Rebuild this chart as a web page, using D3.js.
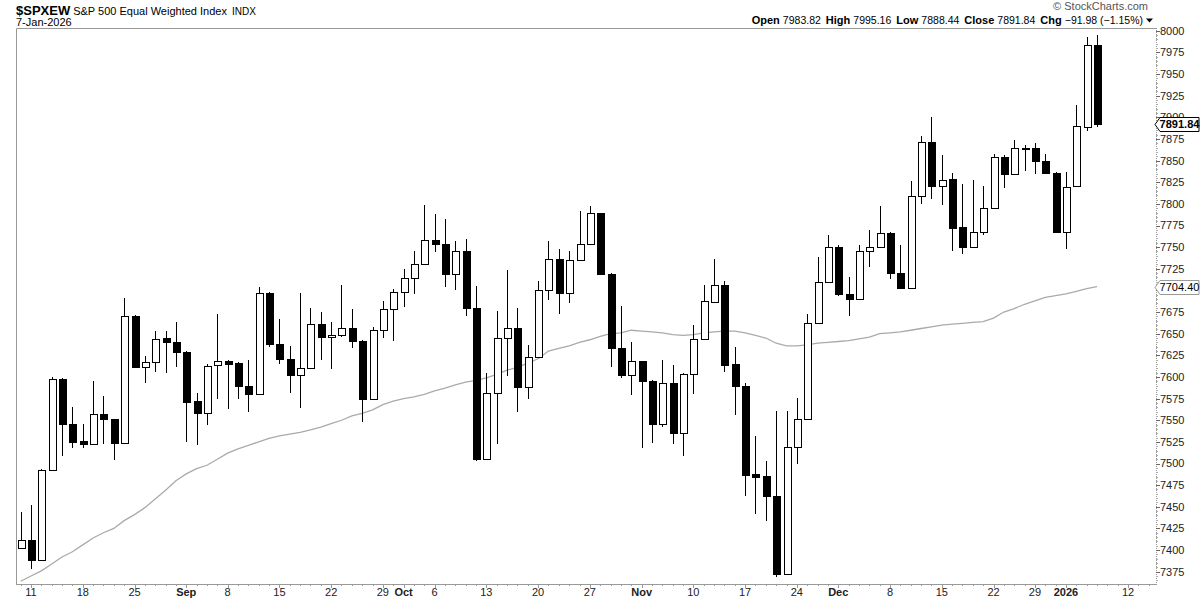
<!DOCTYPE html>
<html>
<head>
<meta charset="utf-8">
<script src="https://cdn.jsdelivr.net/npm/d3@7"></script>
<style>
  body { margin: 0; background: #fff; }
  svg { display: block; font-family: "Liberation Sans", Arial, sans-serif; }
</style>
</head>
<body>
<script>
// trading days shown on the chart
const dates = [
  '2025-08-08','2025-08-11','2025-08-12','2025-08-13','2025-08-14','2025-08-15','2025-08-18','2025-08-19','2025-08-20','2025-08-21',
  '2025-08-22','2025-08-25','2025-08-26','2025-08-27','2025-08-28','2025-08-29','2025-09-02','2025-09-03','2025-09-04','2025-09-05',
  '2025-09-08','2025-09-09','2025-09-10','2025-09-11','2025-09-12','2025-09-15','2025-09-16','2025-09-17','2025-09-18','2025-09-19',
  '2025-09-22','2025-09-23','2025-09-24','2025-09-25','2025-09-26','2025-09-29','2025-09-30','2025-10-01','2025-10-02','2025-10-03',
  '2025-10-06','2025-10-07','2025-10-08','2025-10-09','2025-10-10','2025-10-13','2025-10-14','2025-10-15','2025-10-16','2025-10-17',
  '2025-10-20','2025-10-21','2025-10-22','2025-10-23','2025-10-24','2025-10-27','2025-10-28','2025-10-29','2025-10-30','2025-10-31',
  '2025-11-03','2025-11-04','2025-11-05','2025-11-06','2025-11-07','2025-11-10','2025-11-11','2025-11-12','2025-11-13','2025-11-14',
  '2025-11-17','2025-11-18','2025-11-19','2025-11-20','2025-11-21','2025-11-24','2025-11-25','2025-11-26','2025-11-28','2025-12-01',
  '2025-12-02','2025-12-03','2025-12-04','2025-12-05','2025-12-08','2025-12-09','2025-12-10','2025-12-11','2025-12-12','2025-12-15',
  '2025-12-16','2025-12-17','2025-12-18','2025-12-19','2025-12-22','2025-12-23','2025-12-24','2025-12-26','2025-12-29','2025-12-30',
  '2025-12-31','2026-01-02','2026-01-05','2026-01-06','2026-01-07'
];
// empty slots after the last bar
const futureDates = ['2026-01-08','2026-01-09','2026-01-12','2026-01-13','2026-01-14'];

const open = [
  7402,7412,7388,7492,7598,7546,7526,7523,7557,7551,
  7524,7671,7611,7617,7645,7640,7629,7572,7558,7614,
  7619,7616,7590,7580,7697,7638,7621,7602,7610,7661,
  7646,7649,7657,7642,7575,7654,7678,7698,7714,7731,
  7758,7754,7719,7745,7680,7505,7581,7645,7657,7588,
  7623,7700,7736,7697,7735,7754,7789,7719,7633,7602,
  7618,7595,7546,7593,7535,7603,7644,7687,7706,7615,
  7589,7488,7486,7462,7372,7519,7551,7662,7710,7750,
  7696,7690,7746,7750,7766,7720,7703,7809,7872,7821,
  7829,7773,7750,7767,7795,7854,7834,7864.6,7864,7849,
  7836,7768,7821,7889,7983.82
];
const high = [
  7444,7452,7494,7600,7599,7565,7546,7595,7578,7552,
  7691,7672,7624,7653,7653,7663,7630,7582,7615,7673,
  7620,7617,7620,7704,7698,7667,7636,7697,7680,7675,
  7663,7706,7679,7643,7658,7688,7702,7725,7746,7799,
  7788,7783,7757,7759,7705,7605,7676,7724,7680,7637,
  7711,7757,7748,7746,7792,7798,7790,7720,7682,7640,
  7619,7596,7620,7614,7605,7660,7706,7736,7711,7635,
  7593,7532,7503,7561,7561,7576,7673,7739,7764,7753,
  7716,7753,7770,7798,7768,7752,7826,7878,7900,7856,
  7836,7823,7828,7821,7858,7856,7874,7868,7870,7858,
  7837,7837,7914,7993,7995.16
];
const low = [
  7401,7378,7387,7491,7509,7518,7518,7522,7523,7504,
  7522,7610,7593,7606,7605,7611,7525,7521,7544,7575,
  7563,7575,7559,7579,7635,7615,7582,7564,7609,7620,
  7609,7646,7634,7548,7574,7645,7642,7681,7696,7730,
  7744,7704,7701,7670,7503,7504,7522,7601,7560,7575,
  7622,7689,7673,7686,7734,7753,7718,7611,7599,7579,
  7518,7524,7542,7523,7509,7580,7643,7686,7606,7556,
  7462,7442,7434,7369,7371,7500,7550,7661,7709,7693,
  7670,7689,7727,7749,7713,7702,7702,7800,7806,7799,
  7745,7742,7749,7764,7794,7818,7833,7838,7834,7834,
  7767,7748,7820,7884,7888.44
];
const close = [
  7412,7388,7492,7598,7546,7525,7523,7557,7551,7524,
  7671,7611,7617,7644,7640,7629,7571,7558,7613,7619,
  7615,7590,7580,7697,7638,7621,7602,7610,7661,7646,
  7649,7657,7641,7575,7654,7678,7698,7714,7731,7758,
  7754,7719,7745,7680,7505,7581,7645,7657,7588,7623,
  7700,7736,7697,7735,7754,7789,7719,7633,7602,7618,
  7595,7546,7593,7535,7603,7644,7688,7706,7614,7589,
  7487,7485,7462,7372,7519,7551,7662,7710,7750,7696,
  7690,7746,7750,7766,7720,7703,7809,7872,7821,7828,
  7772,7750,7767,7795,7854,7834,7864,7864.2,7849,7836,
  7768,7820,7890,7983.82,7891.84
];
// moving average overlay (grey line)
const movingAvg = [
  7364,7370,7376,7384,7392,7398,7406,7414,7420,7425,
  7434,7441,7449,7459,7469,7480,7488,7494,7498,7505,
  7512,7517,7521,7525,7529,7532,7534,7536,7539,7542,
  7546,7550,7555,7558,7562,7568,7572,7575,7577,7580,
  7584,7587,7591,7594,7596,7599,7603,7608,7611,7616,
  7621,7630,7633,7636,7640,7643,7647,7650,7651,7654,
  7653,7652,7651,7649,7648,7649,7651,7652,7653,7653,
  7651,7648,7645,7639,7636,7636,7637,7639,7640,7641,
  7642,7644,7646,7650,7651,7652,7654,7656,7658,7660,
  7661,7662,7663,7664,7668,7675,7679,7684,7688,7692,
  7694,7696,7699,7702,7704.40
];

const xTickDates = [
  '2025-08-11','2025-08-18','2025-08-25','2025-09-02','2025-09-08','2025-09-15','2025-09-22','2025-09-29',
  '2025-10-01','2025-10-06','2025-10-13','2025-10-20','2025-10-27','2025-11-03','2025-11-10','2025-11-17',
  '2025-11-24','2025-12-01','2025-12-08','2025-12-15','2025-12-22','2025-12-29','2026-01-02','2026-01-12'
];
const xTickLabels = [
  '11','18','25','Sep','8','15','22','29',
  'Oct','6','13','20','27','Nov','10','17',
  '24','Dec','8','15','22','29','2026','12'
];
const boldLabels = ['Sep','Oct','Nov','Dec','2026'];
const yTicks = [7375,7400,7425,7450,7475,7500,7525,7550,7575,7600,7625,7650,7675,
  7700,7725,7750,7775,7800,7825,7850,7875,7900,7925,7950,7975,8000];

const W = 1200, H = 600;
const plot = { left: 16, right: 1156, top: 28, bottom: 584 };
const slots = dates.concat(futureDates);

const svg = d3.select('body').append('svg').attr('width', W).attr('height', H);

const x = d3.scaleLinear()
  .domain([-0.45, slots.length - 0.3])
  .range([plot.left, plot.right]);

const y = d3.scaleLinear()
  .domain([7360.8, 8003.2])
  .range([plot.bottom, plot.top]);

const data = dates.map((d, i) => ({
  date: d, i, o: open[i], h: high[i], l: low[i], c: close[i], ma: movingAvg[i]
}));

// frame: top and left borders
svg.append('path')
  .attr('d', `M${plot.left + 0.5},${plot.bottom}V${plot.top + 0.5}H${plot.right}`)
  .attr('fill', 'none').attr('stroke', '#999');

// bottom axis line and day ticks
svg.append('line')
  .attr('x1', plot.left).attr('x2', plot.right + 0.5)
  .attr('y1', plot.bottom + 0.5).attr('y2', plot.bottom + 0.5)
  .attr('stroke', '#999');

svg.append('g').selectAll('line').data(slots).enter().append('line')
  .attr('x1', (d, i) => Math.round(x(i)) + 0.5)
  .attr('x2', (d, i) => Math.round(x(i)) + 0.5)
  .attr('y1', plot.bottom)
  .attr('y2', d => xTickDates.includes(d) ? plot.bottom + 4 : plot.bottom + 2)
  .attr('stroke', '#999');

svg.append('g').selectAll('text').data(xTickDates).enter().append('text')
  .attr('x', d => x(slots.indexOf(d)))
  .attr('y', 596)
  .attr('text-anchor', 'middle')
  .style('font-size', '11px')
  .style('font-weight', (d, i) => boldLabels.includes(xTickLabels[i]) ? 'bold' : 'normal')
  .attr('fill', '#222')
  .text((d, i) => xTickLabels[i]);

// right axis: dotted line, major and minor ticks
svg.append('line')
  .attr('x1', plot.right + 0.5).attr('x2', plot.right + 0.5)
  .attr('y1', plot.top).attr('y2', plot.bottom + 1)
  .attr('stroke', '#999').attr('stroke-dasharray', '1,1');

const minorTicks = d3.range(7365, 8001, 5).filter(v => !yTicks.includes(v));
svg.append('g').selectAll('line').data(minorTicks).enter().append('line')
  .attr('x1', plot.right).attr('x2', plot.right + 2)
  .attr('y1', d => Math.round(y(d)) + 0.5).attr('y2', d => Math.round(y(d)) + 0.5)
  .attr('stroke', '#aaa');

const yAxis = svg.append('g').attr('transform', `translate(${plot.right},0)`);
yAxis.selectAll('line').data(yTicks).enter().append('line')
  .attr('x1', 0).attr('x2', 4)
  .attr('y1', d => Math.round(y(d)) + 0.5).attr('y2', d => Math.round(y(d)) + 0.5)
  .attr('stroke', '#666');
yAxis.selectAll('text').data(yTicks).enter().append('text')
  .attr('x', 4)
  .attr('y', d => y(d))
  .attr('dy', '0.36em')
  .style('font-size', '11px')
  .attr('fill', '#222')
  .text(d => d);

// moving average
svg.append('path')
  .datum(data)
  .attr('fill', 'none')
  .attr('stroke', '#aaa')
  .attr('stroke-width', 1.3)
  .attr('d', d3.line().x(d => x(d.i)).y(d => y(d.ma)));

// candles
const candles = svg.append('g').attr('shape-rendering', 'crispEdges')
  .selectAll('g').data(data).enter().append('g');

candles.append('line')
  .attr('x1', d => Math.round(x(d.i)) + 0.5)
  .attr('x2', d => Math.round(x(d.i)) + 0.5)
  .attr('y1', d => Math.round(y(d.h)))
  .attr('y2', d => Math.round(y(d.l)))
  .attr('stroke', '#000');

candles.append('rect')
  .attr('x', d => Math.round(x(d.i)) - 3)
  .attr('y', d => Math.round(y(Math.max(d.o, d.c))) + 0.5)
  .attr('width', 7)
  .attr('height', d => Math.max(1, Math.round(y(Math.min(d.o, d.c))) - Math.round(y(Math.max(d.o, d.c)))))
  .attr('fill', d => d.c >= d.o ? '#fff' : '#000')
  .attr('stroke', '#000');

// value tags on the right axis
function tag(value, label, color, bold) {
  const cy = Math.round(y(value)) + 0.5;
  const g = svg.append('g');
  const x0 = plot.right - 1, w = 44, h = 14;
  g.append('path')
    .attr('d', `M${x0},${cy}L${x0 + 5},${cy - h / 2}H${x0 + w}V${cy + h / 2}H${x0 + 5}Z`)
    .attr('fill', '#fff').attr('stroke', color);
  g.append('text')
    .attr('x', x0 + 5 + (w - 5) / 2).attr('y', cy).attr('dy', '0.36em')
    .attr('text-anchor', 'middle')
    .style('font-size', '11px')
    .style('font-weight', bold ? 'bold' : 'normal')
    .attr('fill', '#000')
    .text(label);
}
const last = data[data.length - 1];
tag(last.ma, d3.format('.2f')(last.ma), '#999', false);
tag(last.c, d3.format('.2f')(last.c), '#000', true);

// header
const head = svg.append('text').attr('x', 16).attr('y', 15).attr('fill', '#000');
head.append('tspan').style('font-size', '13px').style('font-weight', 'bold').text('$SPXEW');
head.append('tspan').attr('dx', 3).style('font-size', '11px').text('S&P 500 Equal Weighted Index');
head.append('tspan').attr('dx', 5).style('font-size', '10px').text('INDX');

svg.append('text').attr('x', 16).attr('y', 26)
  .style('font-size', '11px').attr('fill', '#000').text('7-Jan-2026');

svg.append('text').attr('x', 1148).attr('y', 10)
  .attr('text-anchor', 'end').style('font-size', '11px').attr('fill', '#555')
  .text('\u00A9 StockCharts.com');

const chg = last.c - last.o;
const quote = svg.append('text').attr('x', 1143).attr('y', 24)
  .attr('text-anchor', 'end').style('font-size', '10.5px').attr('fill', '#000');
[['Open', last.o], ['High', last.h], ['Low', last.l], ['Close', last.c]].forEach(([k, v], i) => {
  quote.append('tspan').attr('dx', i ? 5 : 0).style('font-weight', 'bold').style('font-size', '11px').text(k + ' ');
  quote.append('tspan').text(d3.format('.2f')(v));
});
quote.append('tspan').attr('dx', 5).style('font-weight', 'bold').style('font-size', '11px').text('Chg ');
quote.append('tspan').text(`${d3.format('.2f')(chg)} (${d3.format('.2f')(chg / last.o * 100)}%)`);

svg.append('path')
  .attr('d', 'M1146,18.5h7l-3.5,4z')
  .attr('fill', '#000');
</script>
</body>
</html>
